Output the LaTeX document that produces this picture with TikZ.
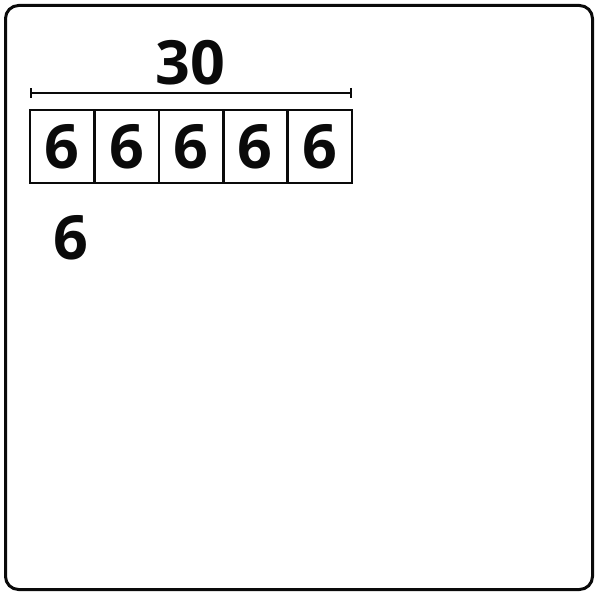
\documentclass[tikz,border=0pt]{standalone}
\usepackage{fontspec}
\setmainfont{Open Sans}
\usepackage{tikz}
\usetikzlibrary{positioning, arrows.meta, calc}
\definecolor{ink}{HTML}{0A0A0A}

\tikzset{
  digit/.style={font=\fontsize{61}{61}\selectfont\bfseries, text=ink},
  cellbox/.style={draw=ink, line width=2.6pt, minimum width=64.4pt, minimum height=73pt,
    inner sep=0pt, outer sep=0pt},
}

\begin{document}
\begin{tikzpicture}[x=1pt, y=-1pt]
  \useasboundingbox (0,0) rectangle (597,593);
  \draw[ink, line width=3pt, rounded corners=13pt] (5.5,5.5) rectangle (592.5,589.5);
  \def\cell{64.4}
  % five equal parts
  \foreach \v [count=\ci from 1] in {6, 6, 6, 6, 6} {
    \pgfmathsetmacro{\xx}{30+\cell/2+(\ci-1)*\cell}
    \node[cellbox, digit] (c\ci) at (\xx, 146.5) {\v};
  }
  % whole bracket
  \coordinate (wl) at ($(c1.north west)+(0,-17)$);
  \coordinate (wr) at ($(c5.north east)+(0,-17)$);
  \draw[ink, line width=2.4pt, {Bar[width=10pt]}-{Bar[width=10pt]}] (wl) -- (wr);
  \node[digit] (whole) at (190, 63) {30};
  \node[digit] (part) at (71, 238) {6};
\end{tikzpicture}
\end{document}
